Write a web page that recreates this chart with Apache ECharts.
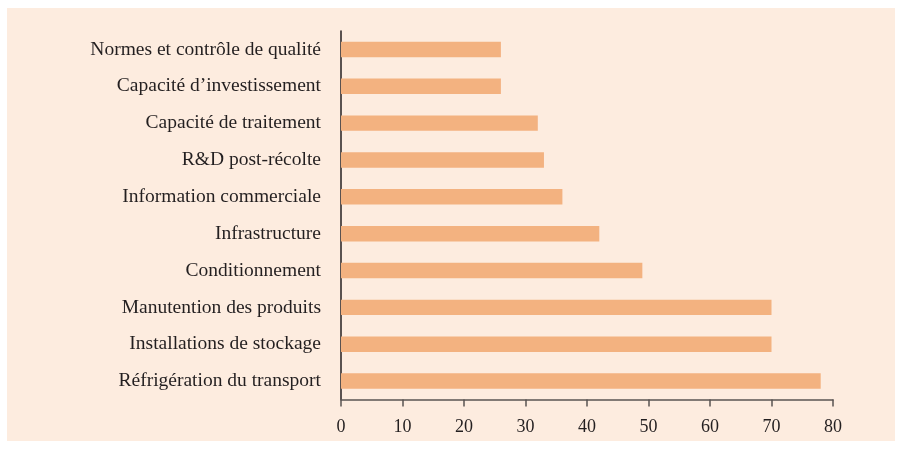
<!DOCTYPE html>
<html>
<head>
<meta charset="utf-8">
<script src="https://cdn.jsdelivr.net/npm/echarts@6/dist/echarts.min.js"></script>
<style>
  html, body { margin: 0; padding: 0; background: #ffffff; }
  #panel { position: absolute; left: 7px; top: 8px; width: 888px; height: 433px; background: #fdecdf; }
  #chart { position: absolute; left: 0; top: 0; width: 902px; height: 449px; }
</style>
</head>
<body>
<div id="panel"></div>
<div id="chart"></div>
<script>
// categories, top to bottom
var categories = [
  'Normes et contrôle de qualité',
  'Capacité d\u2019investissement',
  'Capacité de traitement',
  'R&D post-récolte',
  'Information commerciale',
  'Infrastructure',
  'Conditionnement',
  'Manutention des produits',
  'Installations de stockage',
  'Réfrigération du transport'
];
var values = [26, 26, 32, 33, 36, 42, 49, 70, 70, 78];
var xTicks = [0, 10, 20, 30, 40, 50, 60, 70, 80];

var font = '"Liberation Serif", "DejaVu Serif", serif';
var chart = echarts.init(document.getElementById('chart'), null, { renderer: 'canvas' });

var option = {
  backgroundColor: 'transparent',
  animation: false,
  grid: { left: 341, right: 69, top: 31, bottom: 49.5 },
  xAxis: {
    type: 'value',
    min: xTicks[0],
    max: xTicks[xTicks.length - 1],
    interval: 10,
    splitLine: { show: false },
    axisLine: { show: true, lineStyle: { color: '#5a5453', width: 1.5 } },
    axisTick: { show: true, length: 7, lineStyle: { color: '#5a5453', width: 1.5 } },
    axisLabel: { margin: 19, color: '#231f20', fontFamily: font, fontSize: 18 }
  },
  yAxis: {
    type: 'category',
    data: categories,
    inverse: true,
    axisLine: { show: true, lineStyle: { color: '#231f20', width: 1.5 } },
    axisTick: { show: false },
    axisLabel: { margin: 20, color: '#231f20', fontFamily: font, fontSize: 19.5, padding: [3, 0, 0, 0] }
  },
  series: [{
    type: 'bar',
    data: values,
    barWidth: '42%',
    itemStyle: { color: '#f3b280' }
  }]
};
chart.setOption(option);
</script>
</body>
</html>
